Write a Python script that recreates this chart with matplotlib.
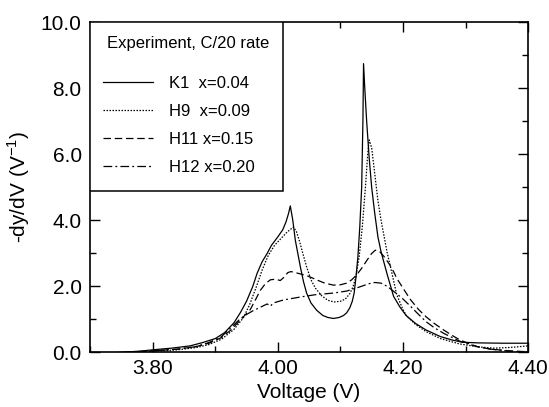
import matplotlib
matplotlib.use("Agg")
import matplotlib.pyplot as plt
from matplotlib.ticker import MultipleLocator, FormatStrFormatter
from matplotlib.patches import Rectangle

plt.rcParams['font.family'] = ['Liberation Sans', 'DejaVu Sans']
plt.rcParams['mathtext.fontset'] = 'custom'
plt.rcParams['mathtext.rm'] = 'Liberation Sans'

# ---- data ----
k1_v = [3.745, 3.78, 3.80, 3.83, 3.86, 3.88, 3.90, 3.915, 3.93, 3.94, 3.95, 3.96,
        3.967, 3.975, 3.983, 3.99, 4.00, 4.008, 4.013, 4.017, 4.02, 4.024, 4.028,
        4.032, 4.036, 4.041, 4.046, 4.053, 4.062, 4.072, 4.08, 4.089, 4.098, 4.105,
        4.11, 4.115, 4.119, 4.122, 4.125, 4.128, 4.131, 4.134, 4.136, 4.137, 4.139,
        4.142, 4.146, 4.15, 4.155, 4.16, 4.165, 4.17, 4.175, 4.185, 4.195, 4.205,
        4.22, 4.237, 4.26, 4.28, 4.295, 4.32, 4.36, 4.40]
k1_y = [0.00, 0.04, 0.08, 0.13, 0.20, 0.30, 0.42, 0.60, 0.90, 1.20, 1.55, 2.00,
        2.40, 2.75, 3.00, 3.25, 3.50, 3.72, 3.95, 4.20, 4.44, 4.00, 3.40,
        3.00, 2.60, 2.15, 1.80, 1.50, 1.28, 1.12, 1.06, 1.03, 1.06, 1.12,
        1.20, 1.35, 1.55, 1.80, 2.30, 2.90, 3.80, 5.00, 7.00, 8.75, 8.00,
        7.00, 5.90, 5.00, 4.20, 3.50, 3.05, 2.70, 2.35, 1.70, 1.38, 1.12,
        0.88, 0.68, 0.48, 0.37, 0.31, 0.29, 0.28, 0.28]

h9_v = [3.76, 3.80, 3.84, 3.87, 3.89, 3.91, 3.93, 3.945, 3.955, 3.965, 3.975, 3.985,
        3.995, 4.005, 4.015, 4.025, 4.03, 4.035, 4.04, 4.046, 4.053, 4.06, 4.07,
        4.08, 4.09, 4.10, 4.108, 4.115, 4.12, 4.125, 4.13, 4.135, 4.14, 4.144,
        4.146, 4.15, 4.155, 4.16, 4.165, 4.17, 4.175, 4.18, 4.19, 4.20, 4.206,
        4.22, 4.237, 4.26, 4.29, 4.32, 4.345, 4.37, 4.40]
h9_y = [0.00, 0.03, 0.08, 0.15, 0.24, 0.40, 0.70, 1.05, 1.45, 1.95, 2.50, 2.95,
        3.25, 3.45, 3.65, 3.80, 3.65, 3.35, 3.00, 2.60, 2.20, 1.95, 1.72,
        1.58, 1.53, 1.55, 1.62, 1.78, 1.98, 2.30, 2.90, 3.80, 5.00, 6.10,
        6.44, 6.20, 5.40, 4.60, 4.00, 3.50, 3.00, 2.60, 1.75, 1.30, 1.10,
        0.85, 0.63, 0.42, 0.26, 0.17, 0.13, 0.15, 0.20]

h11_v = [3.76, 3.80, 3.84, 3.87, 3.89, 3.91, 3.925, 3.94, 3.956, 3.965, 3.972, 3.98,
         3.988, 3.996, 4.004, 4.01, 4.016, 4.021, 4.028, 4.036, 4.05, 4.062, 4.075,
         4.089, 4.10, 4.11, 4.118, 4.126, 4.134, 4.142, 4.15, 4.156, 4.163, 4.17,
         4.178, 4.185, 4.19, 4.20, 4.212, 4.225, 4.237, 4.25, 4.265, 4.28, 4.291,
         4.305, 4.318, 4.34, 4.37, 4.40]
h11_y = [0.00, 0.05, 0.10, 0.18, 0.28, 0.45, 0.68, 0.98, 1.30, 1.62, 1.88, 2.08,
         2.20, 2.22, 2.18, 2.28, 2.42, 2.45, 2.42, 2.38, 2.30, 2.20, 2.10,
         2.04, 2.05, 2.10, 2.20, 2.35, 2.55, 2.78, 3.00, 3.10, 3.05, 2.90,
         2.68, 2.45, 2.25, 1.95, 1.60, 1.30, 1.08, 0.88, 0.68, 0.50, 0.38,
         0.27, 0.18, 0.10, 0.05, 0.02]

h12_v = [3.75, 3.80, 3.84, 3.87, 3.89, 3.91, 3.925, 3.94, 3.95, 3.96, 3.97, 3.983,
         3.988, 3.993, 4.009, 4.036, 4.06, 4.089, 4.11, 4.13, 4.145, 4.155, 4.165,
         4.175, 4.19, 4.20, 4.212, 4.225, 4.237, 4.25, 4.265, 4.28, 4.291, 4.305,
         4.318, 4.34, 4.37, 4.40]
h12_y = [0.00, 0.05, 0.10, 0.18, 0.30, 0.48, 0.75, 1.02, 1.15, 1.26, 1.35, 1.47,
         1.40, 1.50, 1.59, 1.68, 1.75, 1.80, 1.86, 1.98, 2.08, 2.12, 2.10,
         2.00, 1.78, 1.62, 1.40, 1.15, 0.93, 0.75, 0.58, 0.44, 0.34, 0.25,
         0.18, 0.10, 0.04, 0.00]

labels = ["K1  x=0.04", "H9  x=0.09", "H11 x=0.15", "H12 x=0.20"]
legend_title = "Experiment, C/20 rate"

# ---- figure ----
fig = plt.figure(figsize=(5.49, 4.07), dpi=100)
ax = fig.add_axes([0.164, 0.134, 0.798, 0.811])

lw = 0.9
ax.plot(k1_v, k1_y, color='black', lw=lw, ls='-', label=labels[0])
ax.plot(h9_v, h9_y, color='black', lw=lw, ls=(0, (1.2, 1.2)), label=labels[1])
ax.plot(h11_v, h11_y, color='black', lw=lw, ls=(0, (6, 3)), label=labels[2])
ax.plot(h12_v, h12_y, color='black', lw=lw, ls=(0, (7, 2.5, 1.5, 2.5)), label=labels[3])

ax.set_xlim(3.70, 4.40)
ax.set_ylim(0.0, 10.0)
ax.xaxis.set_major_locator(MultipleLocator(0.2))
ax.xaxis.set_minor_locator(MultipleLocator(0.1))
ax.yaxis.set_major_locator(MultipleLocator(2.0))
ax.yaxis.set_minor_locator(MultipleLocator(1.0))
ax.xaxis.set_major_formatter(FormatStrFormatter('%.2f'))
ax.yaxis.set_major_formatter(FormatStrFormatter('%.1f'))

ax.tick_params(which='both', direction='in', top=True, right=True, width=1.0,
               labelsize=15)
ax.tick_params(which='major', length=7)
ax.tick_params(which='minor', length=4)
ax.tick_params(axis='x', pad=5)
ax.tick_params(axis='y', pad=6)
for s in ax.spines.values():
    s.set_linewidth(1.2)

ax.set_xlabel("Voltage (V)", fontsize=15, labelpad=3)
ax.set_ylabel(r"-dy/dV (V$^{\mathregular{-1}}$)", fontsize=15, labelpad=6)

# legend frame drawn manually so its size matches the reference box
ax.add_patch(Rectangle((0.0, 0.488), 0.44, 0.512, transform=ax.transAxes,
                       facecolor='white', edgecolor='black', lw=1.1, zorder=5))
ax.text(0.223, 0.935, legend_title, transform=ax.transAxes, ha='center',
        va='center', fontsize=12, zorder=6)
leg = ax.legend(loc='upper left', bbox_to_anchor=(0.029, 0.838), borderaxespad=0,
                fontsize=12, frameon=False, handlelength=3.0,
                handletextpad=1.0, labelspacing=0.78, borderpad=0)
leg.set_zorder(7)

fig.savefig("out.png", dpi=100)
